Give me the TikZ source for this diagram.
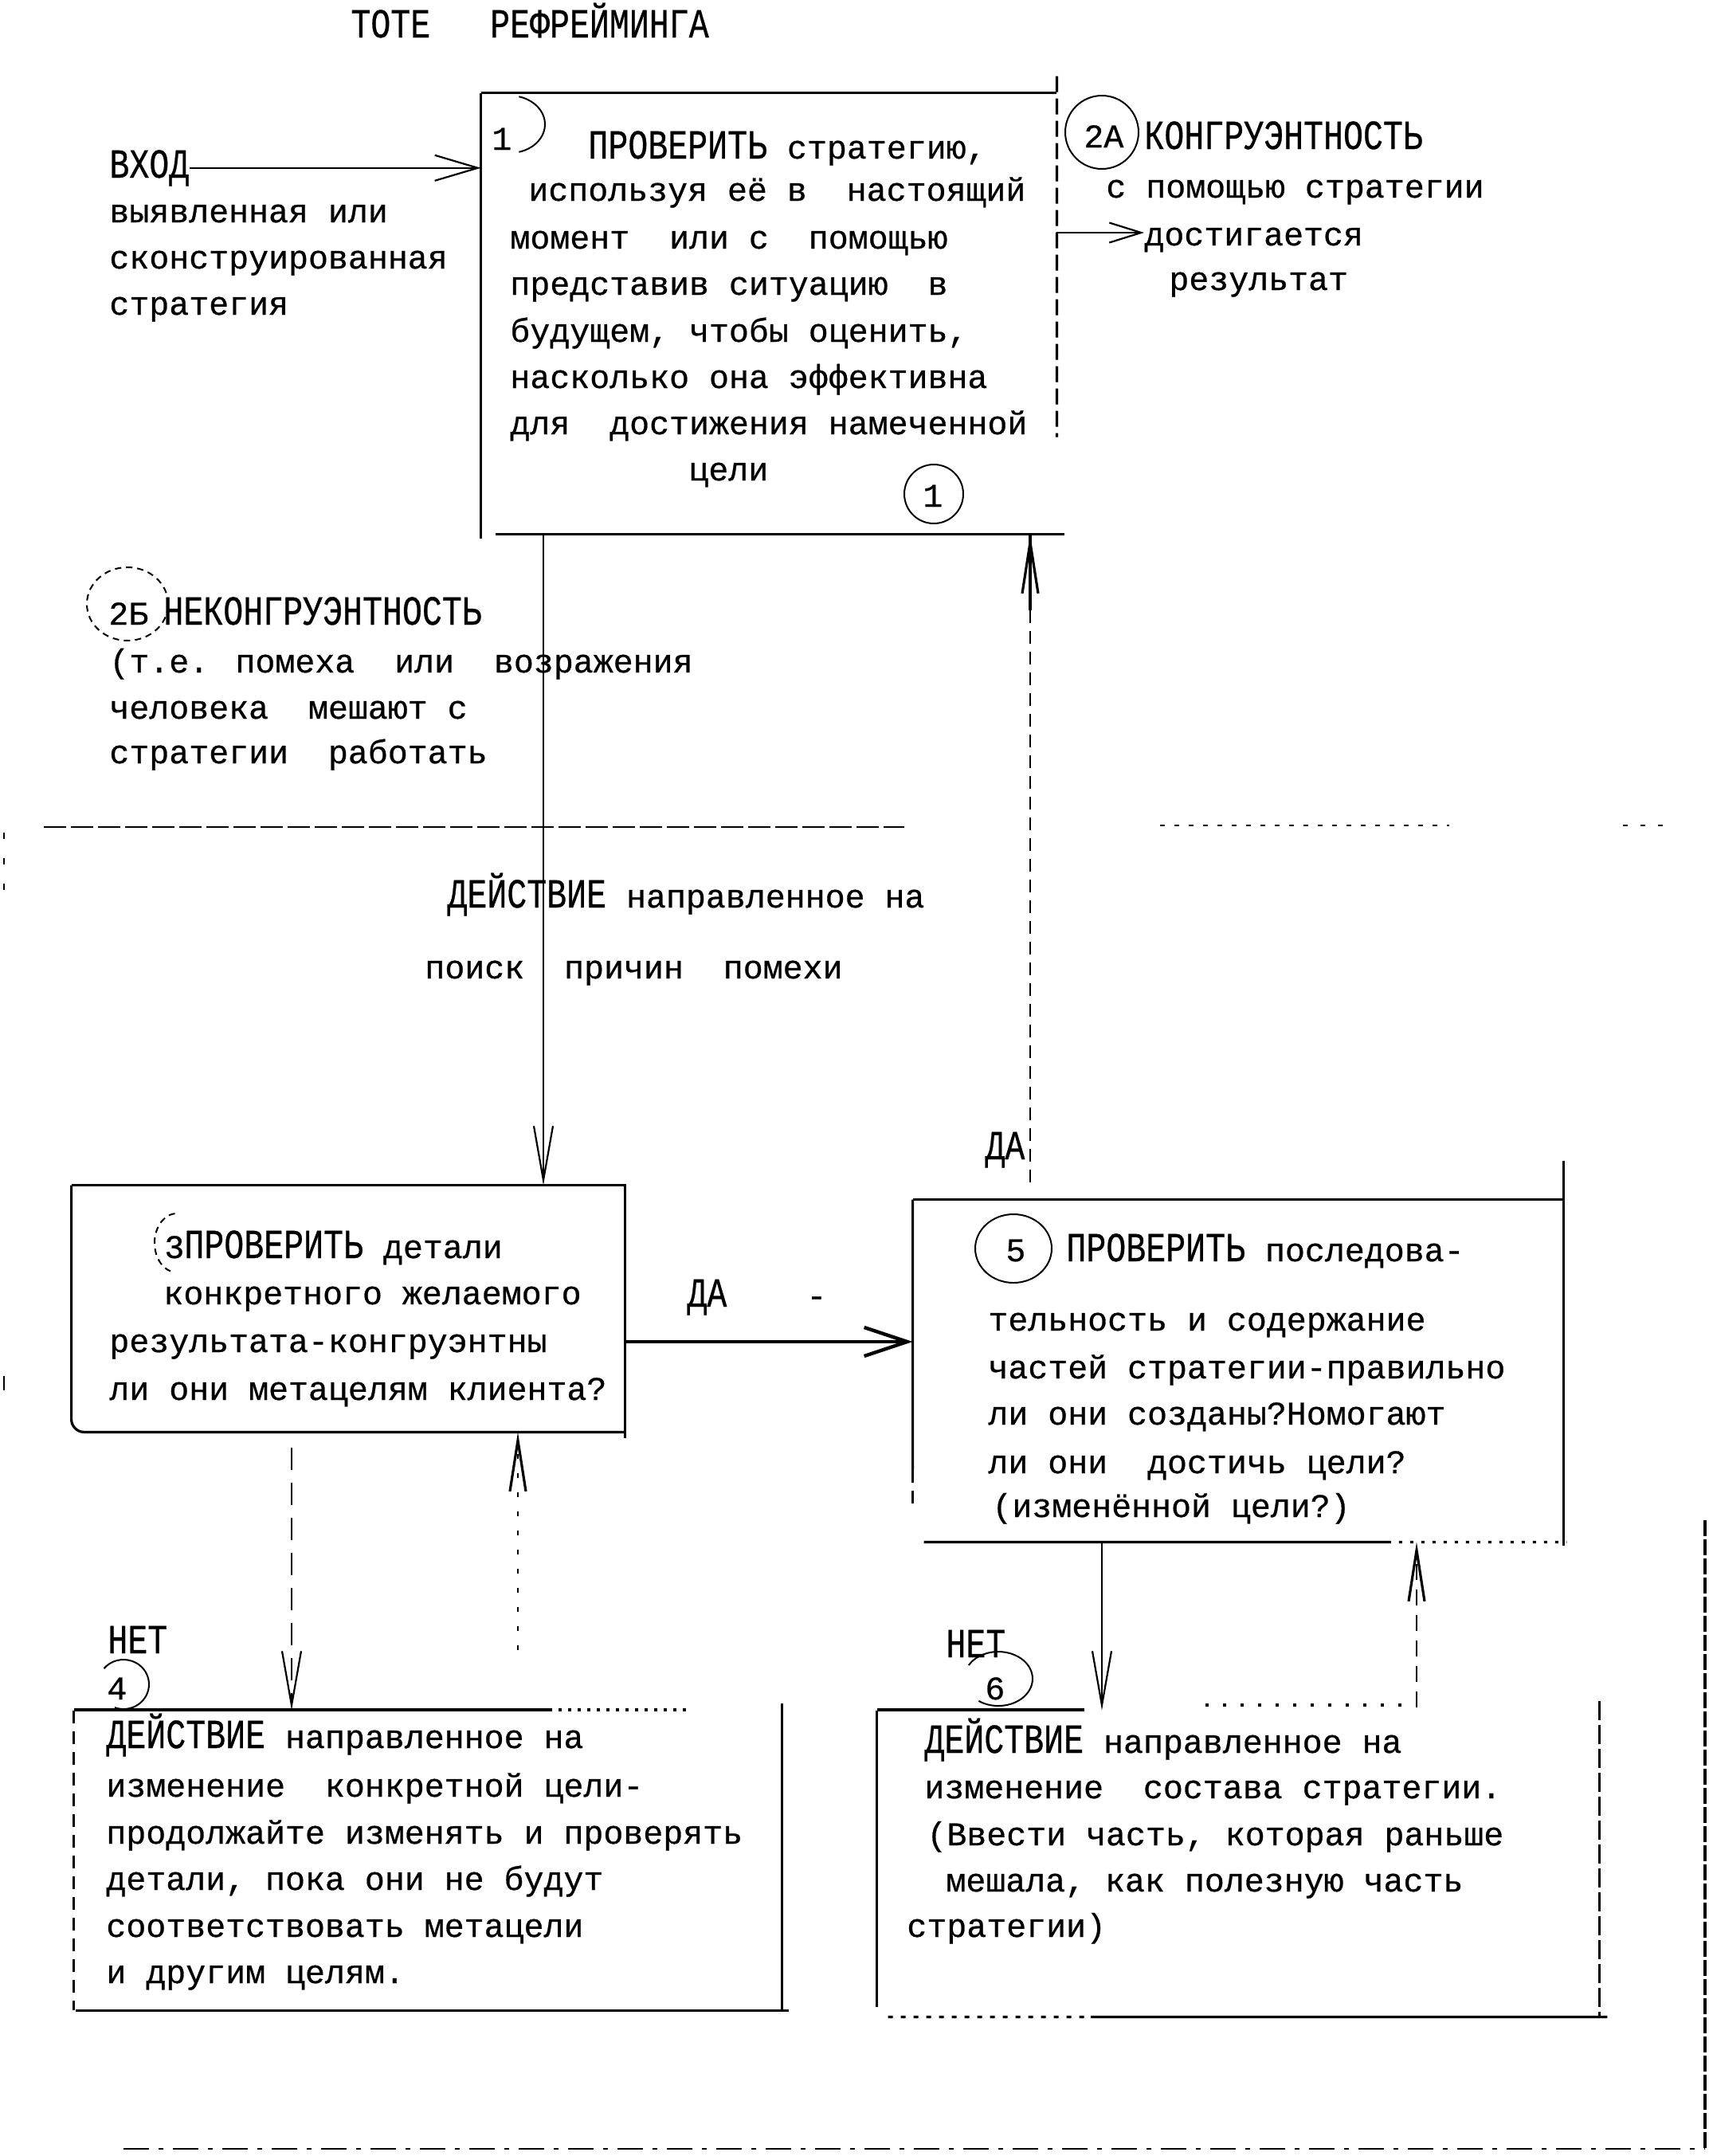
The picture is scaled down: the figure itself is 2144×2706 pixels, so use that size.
\documentclass[tikz,border=0pt]{standalone}
\usepackage{fontspec}
\usepackage{graphicx}
\usetikzlibrary{arrows.meta,fit,calc}
\newfontfamily\tw[FakeBold=0.6]{Liberation Mono}
\newcommand\cp[1]{\scalebox{1}[1.25]{#1}}
\newcommand\tline[4]{\node[txt] (#1) at (#2,#3) {#4};}
\tikzset{
  x=0.5pt, y=-0.5pt,
  txt/.style={font=\tw\fontsize{20.8}{25}\selectfont, inner sep=0pt, anchor=base west},
  bline/.style={line width=1.6pt},
  conn/.style={line width=1.1pt},
  circ/.style={line width=1pt},
  sepline/.style={line width=1.2pt},
  area/.style={inner sep=0pt, draw=none},
  vtip/.style={-{Straight Barb[length=34pt,width=12pt,line width=1.1pt]}},
  utip/.style={-{Straight Barb[length=32pt,width=10pt,line width=1.6pt]}},
}
\begin{document}
\begin{tikzpicture}
\path[use as bounding box, fill=white] (0,0) rectangle (2144,2706);

% ---------- box areas ----------
\node[area, fit={(604,117) (1326,670)}] (b1) {};
\node[area, fit={(90,1488) (784,1797)}] (b3) {};
\node[area, fit={(1146,1506) (1962,1935)}] (b5) {};
\node[area, fit={(93,2147) (981,2523)}] (b4) {};
\node[area, fit={(1101,2147) (2007,2531)}] (b6) {};

% box 1
\draw[bline] (b1.north west) -- (b1.north east);
\draw[bline] (b1.north west) -- ($(b1.south west)+(0,-3pt)$);
\draw[bline] ($(b1.south west)+(9pt,0)$) -- ($(b1.south east)+(5pt,0)$);
\draw[bline, dash pattern=on 10pt off 4pt] ($(b1.north east)+(0,10.5pt)$) -- ($(b1.north east)!0.78!(b1.south east)$);

% box 3
\draw[bline] (b3.north west) -- (b3.north east) -- ($(b3.south east)+(0,-4pt)$);
\draw[bline, rounded corners=8pt] (b3.north west) -- (b3.south west) -- (b3.south east);

% box 5
\draw[bline] (b5.north west) -- (b5.north east);
\draw[bline] ($(b5.north east)+(0,24.5pt)$) -- ($(b5.south east)+(0,-2.5pt)$);
\draw[bline] (b5.north west) -- ($(b5.north west)!0.79!(b5.south west)$);
\draw[bline, dash pattern=on 8pt off 5pt] ($(b5.north west)!0.79!(b5.south west)$) -- ($(b5.north west)!0.91!(b5.south west)$);
\draw[bline] ($(b5.south west)+(7pt,0)$) -- ($(b5.south west)!0.73!(b5.south east)$);
\draw[bline, dash pattern=on 2pt off 5pt] ($(b5.south west)!0.73!(b5.south east)$) -- ($(b5.south east)+(2pt,0)$);

% box 4
\coordinate (b4t1) at (93,2146);
\coordinate (b4t2) at (689,2146);
\coordinate (b4t3) at (862,2146);
\draw[bline] (b4t1) -- (b4t2);
\draw[bline, dash pattern=on 2pt off 4pt] (b4t2) -- (b4t3);
\draw[bline, dash pattern=on 8pt off 5pt] (b4.north west) -- (b4.south west);
\draw[bline] ($(b4.north east)+(0,4.5pt)$) -- ($(b4.south east)+(0,-1pt)$);
\draw[bline] ($(b4.south west)+(1pt,0)$) -- ($(b4.south east)+(4.5pt,0)$);

% box 6
\coordinate (b6t1) at (1101,2146);
\coordinate (b6t2) at (1361,2146);
\coordinate (b6t3) at (1513,2140);
\coordinate (b6t4) at (1772,2140);
\draw[bline] (b6t1) -- (b6t2);
\draw[bline, dash pattern=on 2pt off 9pt] (b6t3) -- (b6t4);
\draw[bline] (b6.north west) -- ($(b6.south west)+(0,6pt)$);
\draw[bline, dash pattern=on 12pt off 3pt] ($(b6.north east)+(0,6pt)$) -- (b6.south east);
\draw[bline, dash pattern=on 3pt off 5pt] ($(b6.south west)+(7pt,0)$) -- ($(b6.south west)!0.296!(b6.south east)$);
\draw[bline] ($(b6.south west)!0.296!(b6.south east)$) -- ($(b6.south east)+(5pt,0)$);

% ---------- title ----------
\tline{title}{440}{47}{\cp{ТОТЕ}~~~\cp{РЕФРЕЙМИНГА}}

% ---------- box 1 text ----------
\tline{n1a}{617}{188}{1}
\tline{b1l1}{738}{199}{\cp{ПРОВЕРИТЬ} стратегию,}
\tline{b1l2}{663}{252}{используя её в ~настоящий}
\tline{b1l3}{640}{312}{момент ~или с ~помощью}
\tline{b1l4}{640}{370}{представив ситуацию ~в}
\tline{b1l5}{640}{429}{будущем, чтобы оценить,}
\tline{b1l6}{640}{487}{насколько она эффективна}
\tline{b1l7}{640}{545}{для ~достижения намеченной}
\tline{b1l8}{864}{603}{цели}
\tline{n1b}{1158}{636}{1}
\coordinate (e1) at (640,156);
\draw[circ] ($(e1)+(-75:22pt and 18pt)$) arc[start angle=-75, end angle=75, x radius=22pt, y radius=18pt];
\draw[circ] (1172,620) ellipse [x radius=18.5pt, y radius=18.5pt];

% ---------- input ----------
\tline{vhod}{137}{223}{\cp{ВХОД}}
\tline{in2}{137}{279}{выявленная или}
\tline{in3}{137}{337}{сконструированная}
\tline{in4}{137}{395}{стратегия}
\draw[conn, -{Straight Barb[length=27pt,width=16pt,line width=1.1pt]}] (vhod.east) -- (vhod.east -| b1.west);

% ---------- 2A ----------
\tline{n2a}{1360}{185}{2А}
\draw[circ] (1383,166) ellipse [x radius=23pt, y radius=23pt];
\tline{kongr}{1436}{187}{\cp{КОНГРУЭНТНОСТЬ}}
\tline{r2}{1388}{248}{с помощью стратегии}
\tline{dost}{1436}{308}{достигается}
\tline{r4}{1467}{364}{результат}
\coordinate (dpt) at (1436,292);
\draw[conn, -{Straight Barb[length=20pt,width=12.5pt,line width=1.1pt]}] (b1.east |- dpt) -- (dpt);

% ---------- 2B ----------
\tline{n2b}{136}{784}{2Б}
\draw[circ, dash pattern=on 4pt off 3pt] (160,758) ellipse [x radius=25.5pt, y radius=23pt];
\tline{nekongr}{205}{784}{\cp{НЕКОНГРУЭНТНОСТЬ}}
\tline{k2}{137}{844}{(т.е. помеха ~или ~возражения}
\tline{k3}{137}{902}{человека ~мешают с}
\tline{k4}{137}{958}{стратегии ~работать}

% ---------- separator ----------
\coordinate (s1) at (55,1038);
\coordinate (s2) at (1135,1038);
\coordinate (s3) at (1456,1036);
\coordinate (s4) at (1819,1036);
\coordinate (s5) at (2037,1036);
\coordinate (s6) at (2092,1036);
\draw[sepline, dash pattern=on 14pt off 3pt] (s1) -- (s2);
\draw[sepline, dash pattern=on 3pt off 6pt] (s3) -- (s4);
\draw[sepline, dash pattern=on 3pt off 8pt] (s5) -- (s6);

% ---------- action ----------
\tline{act1}{561}{1139}{\cp{ДЕЙСТВИЕ} направленное на}
\tline{act2}{533}{1228}{поиск ~причин ~помехи}

% ---------- box 3 text ----------
\tline{n3}{206}{1579}{3\cp{ПРОВЕРИТЬ} детали}
\coordinate (e3) at (222,1560);
\draw[circ, dash pattern=on 4pt off 3pt] ($(e3)+(95:14pt and 18.5pt)$) arc[start angle=95, end angle=265, x radius=14pt, y radius=18.5pt];
\tline{b3l2}{205}{1637}{конкретного желаемого}
\tline{b3l3}{137}{1697}{результата-конгруэнтны}
\tline{b3l4}{137}{1757}{ли они метацелям клиента?}

% ---------- box 5 text ----------
\tline{n5}{1262}{1583}{5}
\draw[circ] (1272,1567) ellipse [x radius=24pt, y radius=21.5pt];
\tline{b5l1}{1338}{1583}{\cp{ПРОВЕРИТЬ} последова-}
\tline{b5l2}{1240}{1670}{тельность и содержание}
\tline{b5l3}{1240}{1730}{частей стратегии-правильно}
\tline{b5l4}{1240}{1788}{ли они созданы?Номогают}
\tline{b5l5}{1240}{1849}{ли они ~достичь цели?}
\tline{b5l6}{1245}{1904}{(изменённой цели?)}

% ---------- labels ----------
\tline{da1}{1236}{1455}{\cp{ДА}}
\tline{da2}{862}{1640}{\cp{ДА}}
\tline{minus}{1012}{1640}{-}
\tline{net1}{135}{2075}{\cp{НЕТ}}
\tline{net2}{1187}{2080}{\cp{НЕТ}}
\tline{n4}{134}{2133}{4}
\coordinate (e4) at (155,2114);
\draw[circ] ($(e4)+(-110:16pt and 15.5pt)$) arc[start angle=-110, end angle=140, x radius=16pt, y radius=15.5pt];
\tline{n6}{1236}{2133}{6}
\coordinate (e6) at (1253,2107);
\draw[circ] ($(e6)+(-125:21.5pt and 17pt)$) arc[start angle=-125, end angle=150, x radius=21.5pt, y radius=17pt];

% ---------- box 4 text ----------
\tline{b4l1}{133}{2194}{\cp{ДЕЙСТВИЕ} направленное на}
\tline{b4l2}{133}{2255}{изменение ~конкретной цели-}
\tline{b4l3}{133}{2314}{продолжайте изменять и проверять}
\tline{b4l4}{133}{2372}{детали, пока они не будут}
\tline{b4l5}{133}{2431}{соответствовать метацели}
\tline{b4l6}{133}{2489}{и другим целям.}

% ---------- box 6 text ----------
\tline{b6l1}{1160}{2200}{\cp{ДЕЙСТВИЕ} направленное на}
\tline{b6l2}{1160}{2257}{изменение ~состава стратегии.}
\tline{b6l3}{1163}{2316}{(Ввести часть, которая раньше}
\tline{b6l4}{1187}{2374}{мешала, как полезную часть}
\tline{b6l5}{1138}{2431}{стратегии)}

% ---------- connectors ----------
\coordinate (x13) at (682,0);
\draw[conn, vtip] (b1.south -| x13) -- (b3.north -| x13);

\coordinate (x51) at (1293,0);
\draw[conn, dash pattern=on 8pt off 5pt, utip, shorten <=11pt] (b5.north -| x51) -- (b1.south -| x51);
\draw[line width=1.6pt] ($(b1.south -| x51)+(0,-48pt)$) -- (b1.south -| x51);

\coordinate (y35) at (0,1684);
\draw[line width=2.2pt, -{Straight Barb[length=27pt,width=18pt,line width=2.2pt]}] (b3.east |- y35) -- (b5.west |- y35);

\coordinate (x34) at (366,0);
\draw[conn, dash pattern=on 14pt off 8pt, vtip, shorten <=10pt] (b3.south -| x34) -- (b4.north -| x34);

\coordinate (x43) at (650,0);
\draw[conn, dash pattern=on 3pt off 9pt, utip, shorten <=38pt] (b4.north -| x43) -- (b3.south -| x43);

\coordinate (x56) at (1383,0);
\draw[conn, vtip] (b5.south -| x56) -- (b6.north -| x56);

\coordinate (x65) at (1778,0);
\draw[conn, dash pattern=on 10pt off 6pt, utip, shorten <=2pt] (b6.north -| x65) -- (b5.south -| x65);

% ---------- page edges ----------
\coordinate (pb1) at (155,2697);
\coordinate (pb2) at (2140,2697);
\coordinate (pr1) at (2140,1908);
\draw[sepline, dash pattern=on 16pt off 6pt on 3pt off 6pt] (pb1) -- (pb2);
\draw[bline, dash pattern=on 10pt off 2pt] (pr1) -- (pb2);
\coordinate (lt1) at (5,1045);
\coordinate (lt2) at (5,1122);
\coordinate (lt3) at (5,1727);
\coordinate (lt4) at (5,1745);
\draw[conn, dash pattern=on 4pt off 12pt] (lt1) -- (lt2);
\draw[conn] (lt3) -- (lt4);
\end{tikzpicture}
\end{document}
